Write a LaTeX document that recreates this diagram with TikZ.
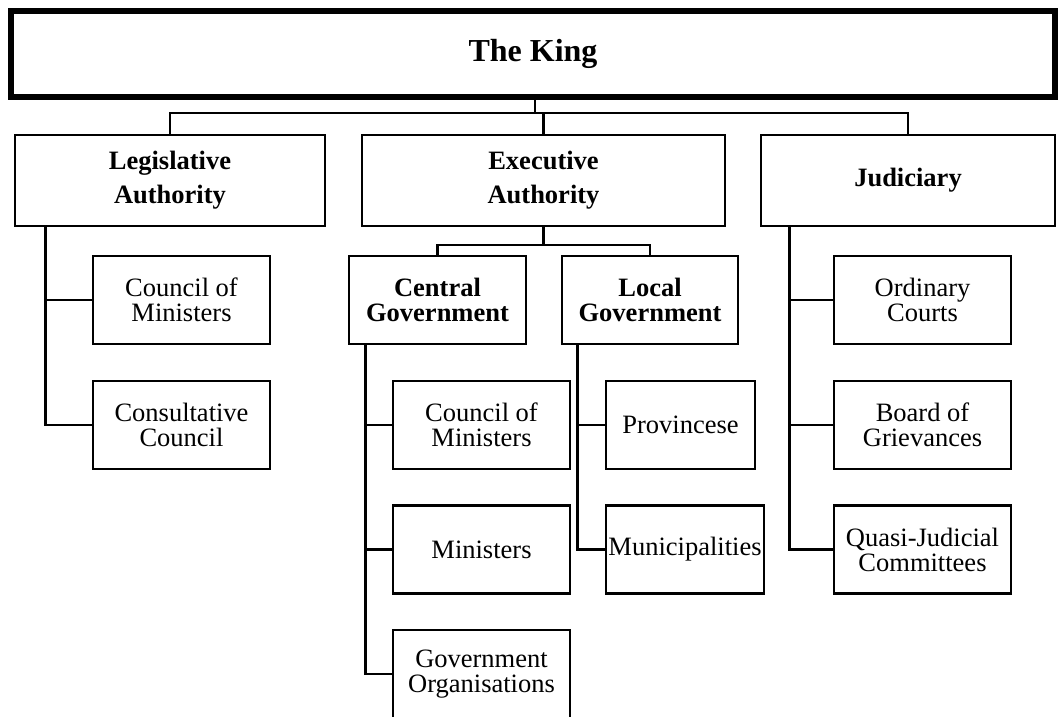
\documentclass[tikz,border=0pt]{standalone}
\usepackage{fontspec}
\setmainfont{Liberation Serif}
\usetikzlibrary{positioning,calc}

\begin{document}
\begin{tikzpicture}[x=1pt,y=-1pt,
	box/.style={draw,line width=2.8pt,inner sep=0pt,align=center,minimum height=88pt,
		font=\fontsize{26.5}{25}\selectfont},
	headbox/.style={box,font=\fontsize{26.5}{25}\selectfont\bfseries},
	kingbox/.style={draw,line width=6pt,minimum width=1044pt,minimum height=86pt,
		font=\fontsize{32}{36}\selectfont\bfseries},
	link/.style={line width=2.8pt}]
	\useasboundingbox (0,0) rectangle (1058,717);
	% top
	\node[kingbox] (king) at (533,54) {The King};
	\node[headbox,minimum width=310pt,minimum height=91pt] (legis) at (170,180.5) {Legislative\\[9pt]Authority};
	\node[headbox,minimum width=363pt,minimum height=91pt] (exec) at (543.5,180.5) {Executive\\[9pt]Authority};
	\node[headbox,minimum width=294pt,minimum height=91pt] (judic) at (908,180.5) {Judiciary};
	\node[headbox,minimum width=177pt] (central) at (437.5,300) {Central\\Government};
	\node[headbox,minimum width=176pt] (local) at (650,300) {Local\\Government};
	% legislative
	\node[box,minimum width=177pt] (lcouncil) at (181.5,300) {Council of\\Ministers};
	\node[box,minimum width=177pt] (lconsult) at (181.5,425) {Consultative\\Council};
	% central
	\node[box,minimum width=177pt] (ccouncil) at (481.5,425) {Council of\\Ministers};
	\node[box,minimum width=177pt] (cminist) at (481.5,549.5) {Ministers};
	\node[box,minimum width=177pt] (corgs) at (481.5,674) {Government\\Organisations};
	% local
	\node[box,minimum width=149pt] (lprov) at (680.5,425) {Provincese};
	\node[box,minimum width=158pt] (lmunic) at (685,549.5) {Municipalities};
	% judiciary
	\node[box,minimum width=177pt] (jcourts) at (922.5,300) {Ordinary\\Courts};
	\node[box,minimum width=177pt] (jboard) at (922.5,425) {Board of\\Grievances};
	\node[box,minimum width=177pt] (jquasi) at (922.5,549.5) {Quasi-Judicial\\Committees};

	\coordinate (bus1) at (535,113);
	\coordinate (bus2) at (543.5,245);
	\draw[link] (king.south -| bus1) -- (bus1);
	\draw[link] (legis.north) |- (bus1) -| (judic.north);
	\draw[link] (exec.north) -- (exec.north |- bus1);
	\draw[link] (exec.south) -- (bus2);
	\draw[link] (central.north) |- (bus2) -| (local.north);

	\coordinate (legtrunk) at ([xshift=32pt]legis.south west);
	\coordinate (centrunk) at ([xshift=18pt]central.south west);
	\coordinate (loctrunk) at ([xshift=17pt]local.south west);
	\coordinate (judtrunk) at ([xshift=30pt]judic.south west);
	\draw[link] (legtrunk) |- (lcouncil.west);
	\draw[link] (legtrunk) |- (lconsult.west);
	\draw[link] (centrunk) |- (ccouncil.west);
	\draw[link] (centrunk) |- (cminist.west);
	\draw[link] (centrunk) |- (corgs.west);
	\draw[link] (loctrunk) |- (lprov.west);
	\draw[link] (loctrunk) |- (lmunic.west);
	\draw[link] (judtrunk) |- (jcourts.west);
	\draw[link] (judtrunk) |- (jboard.west);
	\draw[link] (judtrunk) |- (jquasi.west);
\end{tikzpicture}
\end{document}
